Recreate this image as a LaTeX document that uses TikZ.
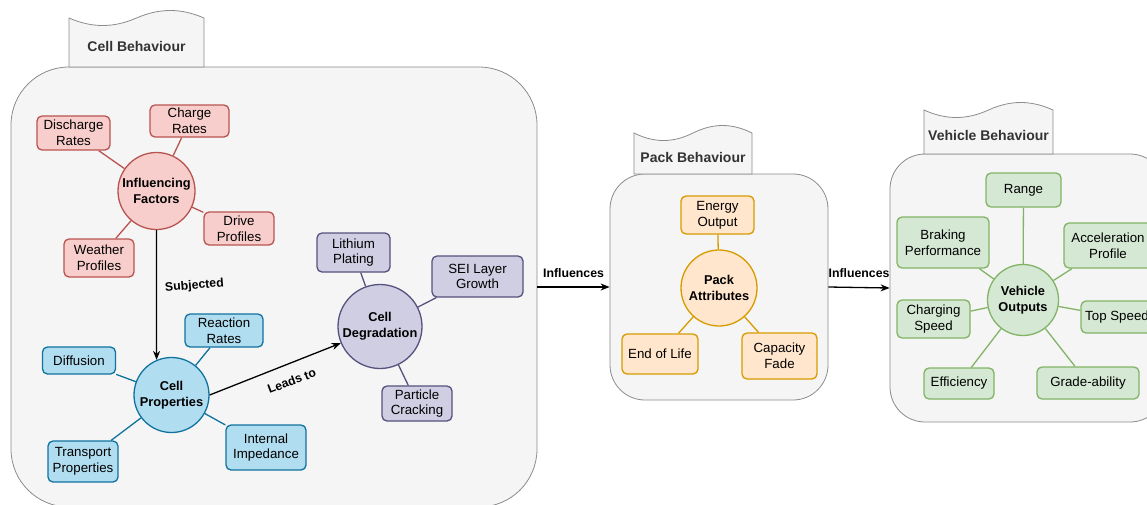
\documentclass[tikz,border=0pt]{standalone}
\usepackage{fontspec}
\setmainfont{Liberation Sans}
\usepackage{tikz}
\usetikzlibrary{arrows.meta}

\definecolor{infFill}{HTML}{F8CECC}
\definecolor{infLine}{HTML}{B85450}
\definecolor{propFill}{HTML}{B1DDF0}
\definecolor{propLine}{HTML}{10739E}
\definecolor{degFill}{HTML}{D0CEE2}
\definecolor{degLine}{HTML}{56517E}
\definecolor{packFill}{HTML}{FFE6CC}
\definecolor{packLine}{HTML}{D79B00}
\definecolor{vehFill}{HTML}{D5E8D4}
\definecolor{vehLine}{HTML}{82B366}
\definecolor{groupFill}{HTML}{F5F5F5}
\definecolor{groupLine}{HTML}{8C8C8C}
\definecolor{groupText}{HTML}{333333}

\tikzset{
	groupbox/.style={draw=groupLine, fill=groupFill, line width=0.8pt, inner sep=0pt},
	tabshape/.style={draw=groupLine, fill=groupFill, line width=0.8pt},
	tablabel/.style={text=groupText, font=\fontsize{14}{16}\selectfont\bfseries},
	factorbox/.style={draw=#1Line, fill=#1Fill, rounded corners=5pt, line width=1.3pt, align=center, inner sep=1pt, font=\fontsize{13.3}{15.6}\selectfont},
	hub/.style={circle, draw=#1Line, fill=#1Fill, line width=1.3pt, align=center, inner sep=0pt, font=\fontsize{12.8}{15.6}\selectfont\bfseries},
	spoke/.style={draw=#1Line, line width=1.3pt},
	flow/.style={draw=black, line width=1.3pt, -{Stealth[length=9pt,width=7pt]}},
	flowlabel/.style={font=\fontsize{12.3}{14}\selectfont\bfseries, inner sep=1pt}
}

\newcommand{\behaviourtab}[6] % {name}{left}{right}{top}{bottom}{label}
{
	\draw[tabshape] (#2,#5) -- (#2,#4)
		.. controls ({#2+(#3-#2)*0.17},{#4+10}) and ({#2+(#3-#2)*0.33},{#4+10}) .. ({(#2+#3)/2},#4)
		.. controls ({#2+(#3-#2)*0.67},{#4-10}) and ({#2+(#3-#2)*0.83},{#4-10}) .. (#3,#4)
		-- (#3,#5) -- cycle;
	\node[tablabel] (#1) at ({(#2+#3)/2},{(#4+#5)/2+3.5}) {#6};
}

\begin{document}
\begin{tikzpicture}[x=1pt,y=-1pt]
	\useasboundingbox (0,0) rectangle (1147,504);
	\clip (0,0) rectangle (1147,504);

	%Groups with their tabs
	\node[groupbox, rounded corners=58pt, minimum width=526, minimum height=440] (cellbox) at (274,287) {};
	\node[groupbox, rounded corners=35pt, minimum width=218, minimum height=226] (packbox) at (719,287) {};
	\node[groupbox, rounded corners=35pt, minimum width=275, minimum height=268] (vehbox) at (1027.5,288) {};
	\behaviourtab{celltab}{69}{204}{18}{67}{Cell Behaviour}
	\behaviourtab{packtab}{634}{752}{133}{174}{Pack Behaviour}
	\behaviourtab{vehtab}{924}{1053}{110}{154}{Vehicle Behaviour}

	%Cell behaviour
	\node[hub=inf, minimum size=77] (inf) at (156.5,191) {Influencing\\Factors};
	\node[factorbox=inf, minimum width=73, minimum height=34] (dis) at (73.5,133) {Discharge\\Rates};
	\node[factorbox=inf, minimum width=79, minimum height=32] (chg) at (189.5,121) {Charge\\Rates};
	\node[factorbox=inf, minimum width=70, minimum height=33] (drv) at (239,228.5) {Drive\\Profiles};
	\node[factorbox=inf, minimum width=70, minimum height=38] (wth) at (99,258) {Weather\\Profiles};

	\node[hub=prop, minimum size=75] (prop) at (171.5,395) {Cell\\Properties};
	\node[factorbox=prop, minimum width=78, minimum height=33] (rct) at (224,330.5) {Reaction\\Rates};
	\node[factorbox=prop, minimum width=73, minimum height=27] (dif) at (79,360.5) {Diffusion};
	\node[factorbox=prop, minimum width=70, minimum height=41] (trn) at (83,461.5) {Transport\\Properties};
	\node[factorbox=prop, minimum width=80, minimum height=45] (imp) at (266,447.5) {Internal\\Impedance};

	\node[hub=deg, minimum size=84] (deg) at (380,326.5) {Cell\\Degradation};
	\node[factorbox=deg, minimum width=73, minimum height=39] (lip) at (353.5,252.5) {Lithium\\Plating};
	\node[factorbox=deg, minimum width=91, minimum height=41] (sei) at (477.5,276.5) {SEI Layer\\Growth};
	\node[factorbox=deg, minimum width=70, minimum height=35] (pcr) at (417,403.5) {Particle\\Cracking};

	%Pack behaviour
	\node[hub=pack, minimum size=76] (pack) at (719,288) {Pack\\Attributes};
	\node[factorbox=pack, minimum width=73, minimum height=38] (eng) at (717.5,215) {Energy\\Output};
	\node[factorbox=pack, minimum width=76, minimum height=40] (eol) at (660,354) {End of Life};
	\node[factorbox=pack, minimum width=75, minimum height=46] (cap) at (779.5,356) {Capacity\\Fade};

	%Vehicle behaviour
	\node[hub=veh, minimum size=71] (veh) at (1023,300) {Vehicle\\Outputs};
	\node[factorbox=veh, minimum width=75, minimum height=34] (rng) at (1023.5,190) {Range};
	\node[factorbox=veh, minimum width=92, minimum height=51] (brk) at (943,242.5) {Braking\\Performance};
	\node[factorbox=veh, minimum width=88, minimum height=45] (acc) at (1108,245.5) {Acceleration\\Profile};
	\node[factorbox=veh, minimum width=73, minimum height=38] (chs) at (933.5,319) {Charging\\Speed};
	\node[factorbox=veh, minimum width=72, minimum height=32] (tsp) at (1117,317) {Top Speed};
	\node[factorbox=veh, minimum width=70, minimum height=31] (eff) at (959,383.5) {Efficiency};
	\node[factorbox=veh, minimum width=102, minimum height=32] (grd) at (1088,383) {Grade-ability};

	%Spokes
	\foreach \leaf in {dis,chg,drv,wth} \draw[spoke=inf] (inf) -- (\leaf);
	\foreach \leaf in {rct,dif,trn,imp} \draw[spoke=prop] (prop) -- (\leaf);
	\foreach \leaf in {lip,sei,pcr} \draw[spoke=deg] (deg) -- (\leaf);
	\foreach \leaf in {eng,eol,cap} \draw[spoke=pack] (pack) -- (\leaf);
	\foreach \leaf in {rng,brk,acc,chs,tsp,eff,grd} \draw[spoke=veh] (veh) -- (\leaf);

	%Flows
	\draw[flow] (inf.south) -- node[flowlabel, pos=0.45, anchor=west, xshift=7, rotate=5] (subj) {Subjected} (prop.113);
	\draw[flow] (prop.east) -- node[flowlabel, pos=0.58, rotate=21, yshift=-17] (leads) {Leads to} (deg.203);
	\draw[flow] (cellbox.east) -- node[flowlabel, above=8pt] (infl1) {Influences} (packbox.west);
	\draw[flow] (packbox.east) -- node[flowlabel, above=8pt] (infl2) {Influences} (vehbox.west);
\end{tikzpicture}
\end{document}
